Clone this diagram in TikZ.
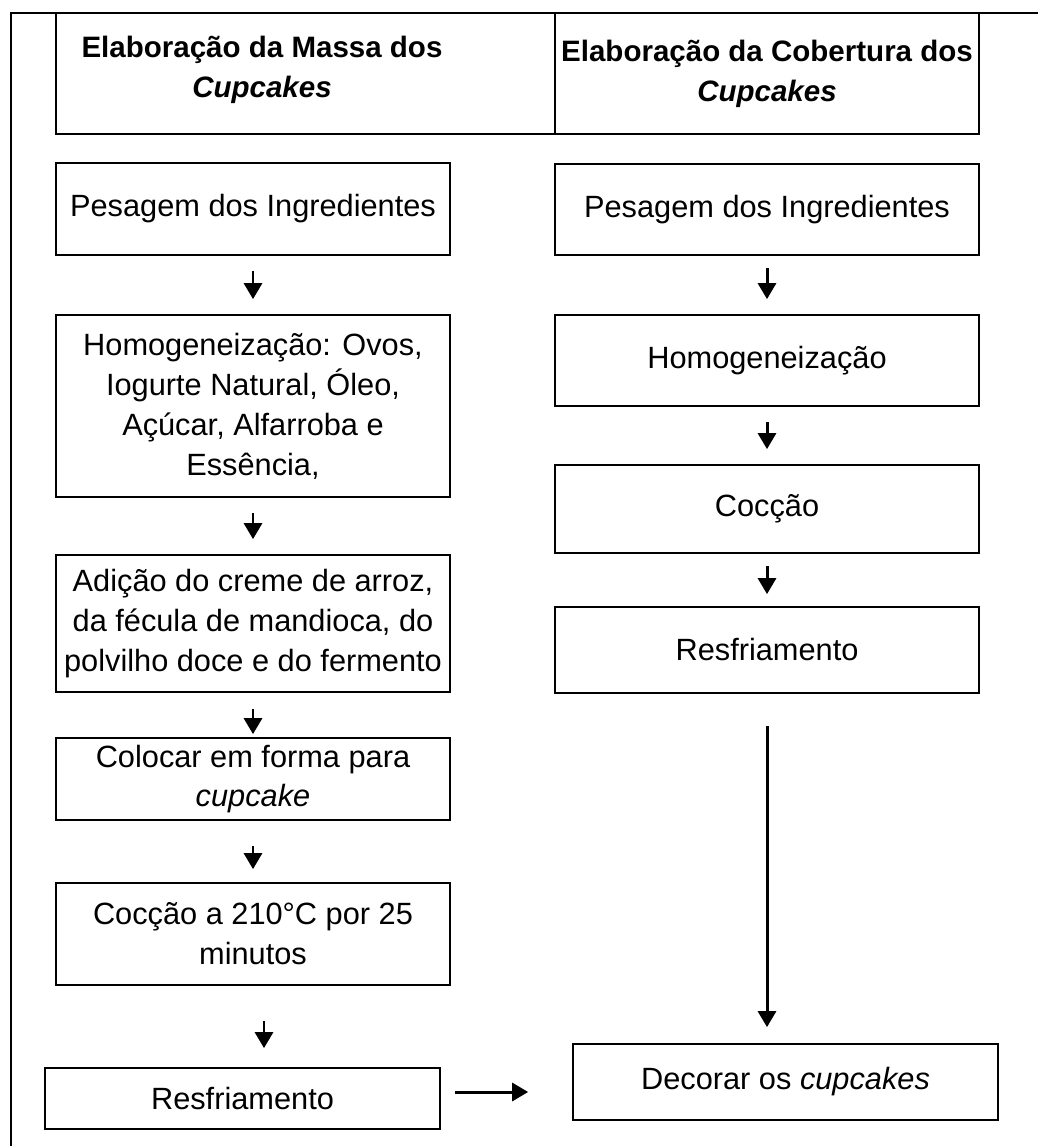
\documentclass[tikz,border=0pt]{standalone}
\usepackage{fontspec}
\setmainfont{Liberation Sans}
\usetikzlibrary{arrows.meta}

\begin{document}
\begin{tikzpicture}[x=0.02cm, y=-0.02cm,
		font = \fontsize{17.5}{22.7}\selectfont,
		box/.style = {draw, line width=1pt, align=center, inner sep=0pt},
		title/.style = {align=center, inner sep=0pt,
			font=\fontsize{16.8}{22.7}\selectfont\bfseries},
		line/.style = {line width=1.7pt, -{Triangle[length=0.32cm, width=0.36cm]},
			shorten <=0.3cm, shorten >=0.3cm}]
		
		\useasboundingbox (0,0) rectangle (1038,1146);
		
		% Frame
		\draw[line width=1pt] (11,1146) -- (11,13) -- (1038,13);
		
		% Titles
		\node[box, minimum width=9.98cm, minimum height=2.42cm] (tA) at (305.5,73.5) {};
		\node[title] (tAtext) at (262,70) {Elaboração da Massa dos\\ \textit{Cupcakes}};
		\node[box, title, minimum width=8.48cm, minimum height=2.42cm] (tB) at (767,73.5) {Elaboração da Cobertura dos\\ \textit{Cupcakes}};
		
		% Massa
		\node[box, minimum width=7.88cm, minimum height=1.84cm] (pA) at (253,209) {Pesagem dos Ingredientes};
		\node[box, minimum width=7.88cm, minimum height=3.64cm] (hA) at (253,406) {Homogeneização: Ovos,\\ Iogurte Natural, Óleo,\\ Açúcar, Alfarroba e\\ Essência,};
		\node[box, minimum width=7.88cm, minimum height=2.74cm] (aA) at (253,623.5) {Adição do creme de arroz,\\ da fécula de mandioca, do\\ polvilho doce e do fermento};
		\node[box, minimum width=7.88cm, minimum height=1.64cm] (cA) at (253,779) {Colocar em forma para\\ \textit{cupcake}};
		\node[box, minimum width=7.88cm, minimum height=2.04cm] (kA) at (253,934) {Cocção a 210°C por 25\\ minutos};
		\node[box, minimum width=7.9cm, minimum height=1.22cm] (rA) at (242.5,1098.5) {Resfriamento};
		
		% Cobertura
		\node[box, minimum width=8.48cm, minimum height=1.82cm] (pB) at (767,209.5) {Pesagem dos Ingredientes};
		\node[box, minimum width=8.48cm, minimum height=1.82cm] (hB) at (767,360.5) {Homogeneização};
		\node[box, minimum width=8.48cm, minimum height=1.76cm] (cB) at (767,509) {Cocção};
		\node[box, minimum width=8.48cm, minimum height=1.72cm] (rB) at (767,650) {Resfriamento};
		\node[box, minimum width=8.5cm, minimum height=1.52cm] (dB) at (785.5,1082) {Decorar os \textit{cupcakes}};
		
		% Arrows
		\draw[line] (pA) -- (hA);
		\draw[line] (hA) -- (aA);
		\draw[line, shorten <=0.32cm, shorten >=0.06cm] (aA) -- (cA);
		\draw[line, shorten <=0.5cm, shorten >=0.26cm] (cA) -- (kA);
		\draw[line, shorten <=0.7cm, shorten >=0.38cm] ([xshift=0.22cm]kA.south) -- ([xshift=0.22cm]kA.south |- rA.north);
		
		\draw[line, shorten <=0.25cm] (pB) -- (hB);
		\draw[line] (hB) -- (cB);
		\draw[line, shorten <=0.24cm, shorten >=0.24cm] (cB) -- (rB);
		\draw[line, shorten <=0.64cm, shorten >=0.32cm] (rB.south) -- (rB.south |- dB.north);
		
		\draw[line, shorten <=0.28cm, shorten >=0.88cm] ([yshift=0.13cm]rA.east) -- ([yshift=0.13cm]rA.east -| dB.west);
	\end{tikzpicture}
\end{document}
